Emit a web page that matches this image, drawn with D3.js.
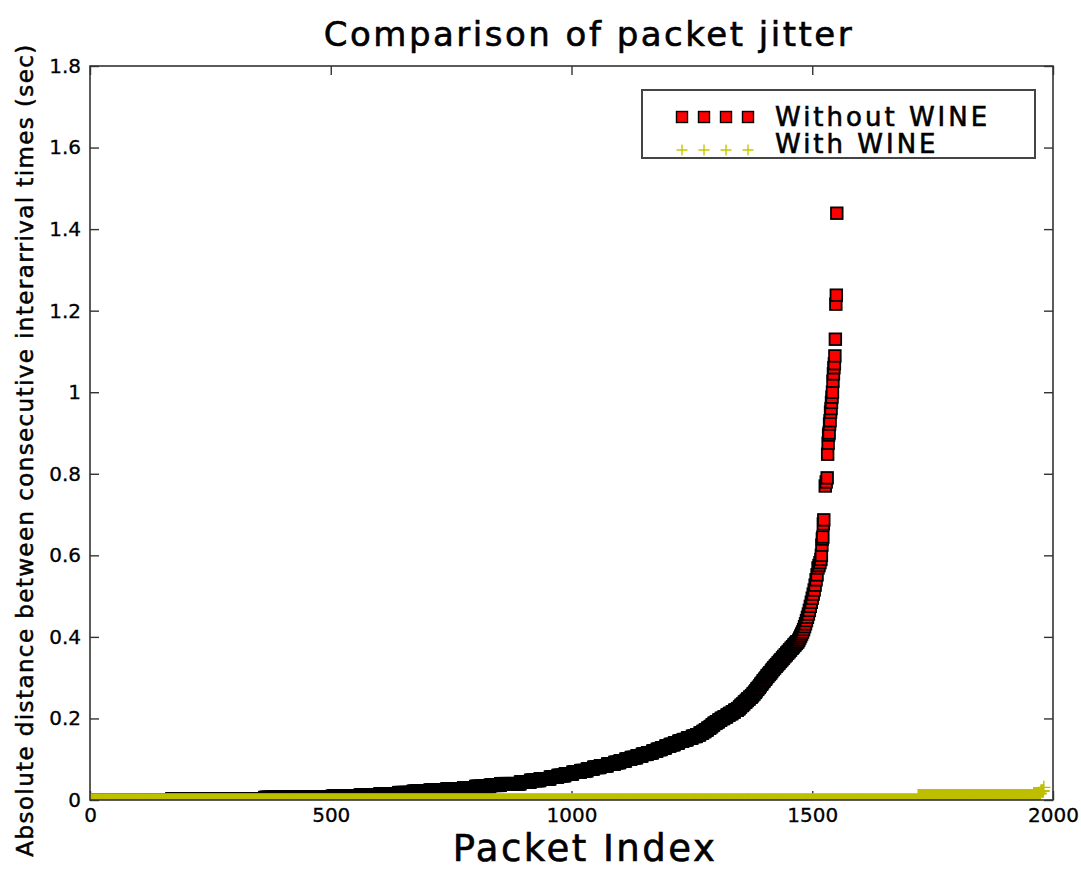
<!DOCTYPE html>
<html>
<head>
<meta charset="utf-8">
<script src="https://cdn.jsdelivr.net/npm/d3@7"></script>
<style>
body { margin: 0; background: #fff; }
text { font-family: "DejaVu Sans", sans-serif; }
</style>
</head>
<body>
<div id="chart"></div>
<script>
// sorted jitter samples, stored as runs: every packet rank up to levelEnd gets levelSec
const withoutLevelSec = [
    0.000, 0.003, 0.006, 0.009, 0.012, 0.015, 0.018, 0.021, 0.024, 0.027,
    0.030, 0.033, 0.036, 0.040, 0.044, 0.048, 0.052, 0.056, 0.060, 0.064,
    0.068, 0.072, 0.076, 0.080, 0.084, 0.088, 0.092, 0.096, 0.100, 0.104,
    0.108, 0.112, 0.116, 0.120, 0.124, 0.128, 0.132, 0.136, 0.140, 0.144,
    0.148, 0.152, 0.156, 0.160, 0.164, 0.168, 0.172, 0.176, 0.180, 0.184,
    0.188, 0.192, 0.196, 0.200, 0.204, 0.208, 0.212, 0.216, 0.220, 0.224,
    0.228, 0.232, 0.236, 0.240, 0.244, 0.248, 0.252, 0.256, 0.260, 0.264,
    0.268, 0.272, 0.276, 0.280, 0.284, 0.288, 0.292, 0.296, 0.300, 0.304,
    0.308, 0.312, 0.316, 0.320, 0.324, 0.328, 0.332, 0.336, 0.340, 0.344,
    0.348, 0.352, 0.356, 0.360, 0.364, 0.368, 0.372, 0.376, 0.380, 0.384,
    0.388
]
const withoutLevelEnd = [
    169, 362, 502, 560, 601, 640, 670, 705, 740, 775,
    800, 830, 852, 893, 914, 934, 955, 971, 986, 1002,
    1018, 1032, 1045, 1059, 1074, 1089, 1100, 1112, 1123, 1135,
    1146, 1157, 1168, 1177, 1186, 1195, 1204, 1213, 1222, 1231,
    1240, 1250, 1259, 1266, 1272, 1277, 1282, 1287, 1291, 1295,
    1300, 1305, 1310, 1316, 1322, 1327, 1333, 1338, 1344, 1348,
    1351, 1355, 1358, 1362, 1365, 1369, 1373, 1376, 1379, 1382,
    1384, 1387, 1390, 1392, 1395, 1397, 1400, 1403, 1405, 1408,
    1411, 1414, 1416, 1419, 1422, 1425, 1428, 1431, 1434, 1437,
    1440, 1443, 1446, 1449, 1452, 1455, 1458, 1461, 1464, 1467,
    1470
]
// the sparse top of the curve, one packet per entry
const withoutTailRank = [
    1472, 1474, 1476, 1478, 1480, 1482, 1484, 1486, 1488, 1490,
    1492, 1494, 1496, 1498, 1500, 1502, 1504, 1506, 1508, 1510,
    1512, 1514, 1516, 1518, 1519, 1520, 1521, 1522, 1523, 1524,
    1527, 1529, 1531, 1532, 1533, 1534, 1535, 1536, 1537, 1538,
    1539, 1540, 1541, 1542, 1543, 1544, 1545, 1546, 1547, 1548,
    1549, 1550, 1551
]
const withoutTailSec = [
    0.392, 0.397, 0.402, 0.407, 0.412, 0.418, 0.425, 0.432, 0.440, 0.448,
    0.456, 0.465, 0.475, 0.485, 0.495, 0.505, 0.515, 0.527, 0.540, 0.552,
    0.569, 0.575, 0.582, 0.590, 0.600, 0.625, 0.640, 0.645, 0.677, 0.687,
    0.770, 0.780, 0.790, 0.848, 0.875, 0.895, 0.900, 0.922, 0.930, 0.951,
    0.960, 0.975, 0.988, 1.000, 1.027, 1.045, 1.060, 1.070, 1.089, 1.130,
    1.216, 1.238, 1.439
]
const withLevelSec = [0.000, 0.011, 0.016, 0.022, 0.031]
const withLevelEnd = [1719, 1959, 1974, 1980, 1981]

const xTicks = [0, 500, 1000, 1500, 2000]
const yTicks = [0, 0.2, 0.4, 0.6, 0.8, 1, 1.2, 1.4, 1.6, 1.8]
const yTickLabels = ["0", "0.2", "0.4", "0.6", "0.8", "1", "1.2", "1.4", "1.6", "1.8"]
const seriesNames = ["Without WINE", "With WINE"]

function expandRuns(levelSec, levelEnd) {
    var pts = []
    var start = 0
    levelEnd.forEach(function(end, i) {
        for (var r = start; r <= end; r++) pts.push({rank: r, sec: levelSec[i]})
        start = end + 1
    })
    return pts
}

var withoutPts = expandRuns(withoutLevelSec, withoutLevelEnd)
withoutTailRank.forEach(function(r, i) { withoutPts.push({rank: r, sec: withoutTailSec[i]}) })
var withPts = expandRuns(withLevelSec, withLevelEnd)

var margin = {top: 66, right: 28, bottom: 71, left: 90},
    width = 1081 - margin.left - margin.right,
    height = 871 - margin.top - margin.bottom

var svg = d3.select("#chart").append("svg")
    .attr("width", 1081)
    .attr("height", 871)

var x = d3.scaleLinear().domain([0, 2000]).range([0, width])
var y = d3.scaleLinear().domain([0, 1.8]).range([height, 0])

var plot = svg.append("g")
    .attr("transform", "translate(" + margin.left + "," + margin.top + ")")

plot.append("clipPath").attr("id", "clip")
    .append("rect").attr("width", width).attr("height", height)

// axes, ticks point inwards on all four sides
function styleAxis(g) {
    g.select(".domain").remove()
    g.selectAll(".tick line").attr("stroke", "#333").attr("stroke-width", 1.4)
    g.selectAll("text").attr("fill", "#000").attr("stroke", "#000").attr("stroke-width", 0.3)
    g.attr("font-family", "DejaVu Sans").attr("font-size", 20)
}

plot.append("g")
    .call(d3.axisLeft(y).tickValues(yTicks).tickFormat(function(d, i) { return yTickLabels[i] })
        .tickSize(-9).tickPadding(9))
    .call(styleAxis)
plot.append("g")
    .attr("transform", "translate(" + width + ",0)")
    .call(d3.axisRight(y).tickValues(yTicks).tickFormat("").tickSize(-9))
    .call(styleAxis)
plot.append("g")
    .attr("transform", "translate(0," + height + ")")
    .call(d3.axisBottom(x).tickValues(xTicks).tickFormat(d3.format("d")).tickSize(-9).tickPadding(8))
    .call(styleAxis)
plot.append("g")
    .call(d3.axisTop(x).tickValues(xTicks).tickFormat("").tickSize(-9))
    .call(styleAxis)

var sq = 11.6
var half = 6.5

plot.append("g")
    .attr("clip-path", "url(#clip)")
    .selectAll("rect")
    .data(withoutPts)
    .join("rect")
    .attr("x", function(d) { return x(d.rank) - sq / 2 })
    .attr("y", function(d) { return y(d.sec) - sq / 2 })
    .attr("width", sq)
    .attr("height", sq)
    .attr("fill", "#ff0000")
    .attr("stroke", "#000")
    .attr("stroke-width", 1.8)

plot.append("g")
    .attr("clip-path", "url(#clip)")
    .selectAll("path")
    .data(withPts)
    .join("path")
    .attr("d", function(d) {
        var cx = x(d.rank), cy = y(d.sec)
        return "M" + (cx - half) + "," + cy + "h" + (2 * half) + "M" + cx + "," + (cy - half) + "v" + (2 * half)
    })
    .attr("stroke", "#bfbf00")
    .attr("stroke-width", 1.4)
    .attr("fill", "none")

// frame
plot.append("rect")
    .attr("width", width)
    .attr("height", height)
    .attr("fill", "none")
    .attr("stroke", "#333")
    .attr("stroke-width", 1.6)

// legend
var legend = svg.append("g").attr("transform", "translate(642,90)")
legend.append("rect")
    .attr("width", 393).attr("height", 68)
    .attr("fill", "#fff")
    .attr("stroke", "#444").attr("stroke-width", 2)

var keyX = d3.scaleLinear().domain([0, 3]).range([40, 106])
var rowY = [27, 60]
legend.selectAll(".keysq")
    .data(d3.range(4))
    .join("rect")
    .attr("class", "keysq")
    .attr("x", function(d) { return keyX(d) - 5.5 })
    .attr("y", rowY[0] - 5.5)
    .attr("width", 11).attr("height", 11)
    .attr("fill", "#ff0000").attr("stroke", "#000").attr("stroke-width", 1.4)
legend.selectAll(".keyplus")
    .data(d3.range(4))
    .join("path")
    .attr("class", "keyplus")
    .attr("d", function(d) { var cx = keyX(d); return "M" + (cx - 5.5) + "," + rowY[1] + "h11M" + cx + "," + (rowY[1] - 5.5) + "v11" })
    .attr("stroke", "#c8c800").attr("stroke-width", 1.4)
legend.selectAll(".keytext")
    .data(seriesNames)
    .join("text")
    .attr("class", "keytext")
    .attr("x", 133)
    .attr("y", function(d, i) { return [36, 63][i] })
    .attr("font-size", 26)
    .attr("letter-spacing", 3)
    .attr("stroke", "#000").attr("stroke-width", 0.6)
    .text(function(d) { return d })

// titles
svg.append("text")
    .attr("x", 589).attr("y", 46)
    .attr("text-anchor", "middle")
    .attr("font-size", 34)
    .attr("letter-spacing", 2.5)
    .attr("stroke", "#000").attr("stroke-width", 0.6)
    .text("Comparison of packet jitter")

svg.append("text")
    .attr("x", 585).attr("y", 861)
    .attr("text-anchor", "middle")
    .attr("font-size", 37)
    .attr("letter-spacing", 2.5)
    .attr("stroke", "#000").attr("stroke-width", 0.6)
    .text("Packet Index")

svg.append("text")
    .attr("transform", "translate(33,450) rotate(-90)")
    .attr("text-anchor", "middle")
    .attr("font-size", 23)
    .attr("letter-spacing", 1.4)
    .attr("stroke", "#000").attr("stroke-width", 0.5)
    .text("Absolute distance between consecutive interarrival times (sec)")
</script>
</body>
</html>
